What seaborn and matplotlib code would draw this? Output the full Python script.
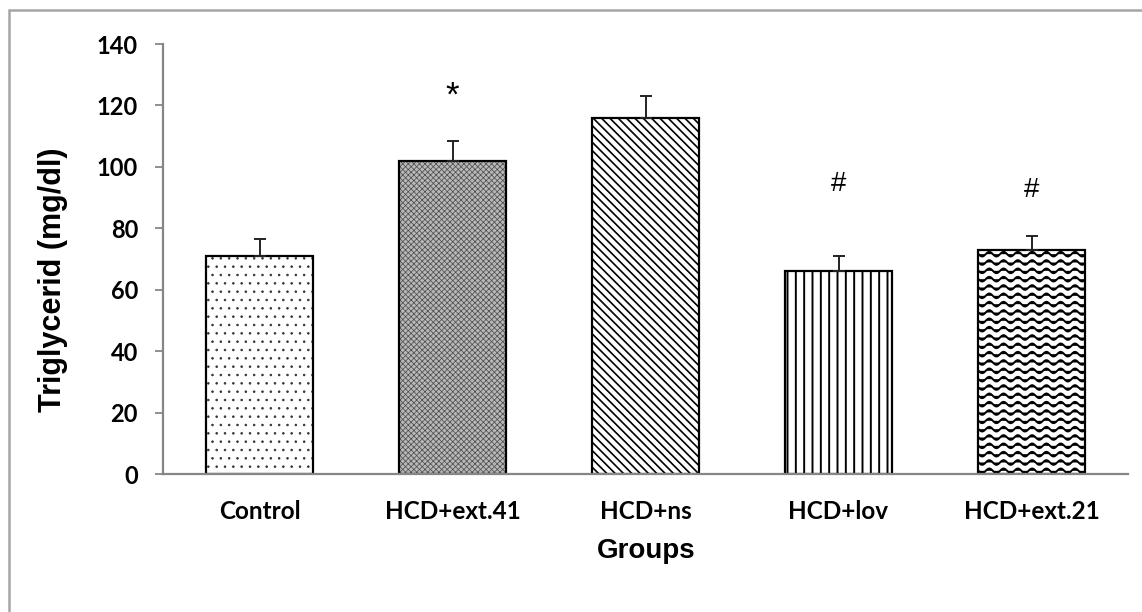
import numpy as np
import matplotlib
matplotlib.use("Agg")
import matplotlib.pyplot as plt
import matplotlib.hatch as mhatch
from matplotlib.colors import to_rgba
from matplotlib.path import Path
from matplotlib.patches import Rectangle
import seaborn as sns

# ---- data ----
groups = ["Control", "HCD+ext.41", "HCD+ns", "HCD+lov", "HCD+ext.21"]
values = [71, 102, 116, 66, 73]
errors = [5.5, 6.5, 7, 5, 4.5]
marks = ["", "*", "", "#", "#"]
mark_y = [None, 119.8, None, 92.2, 90.2]
mark_size = [0, 25, 0, 20, 20]
hatches = ["..", "xxxxxx", "\\\\\\\\", "||", "~~"]
faces = ["white", "#b8b8b8", "white", "white", "white"]
hatch_colors = ["#333333", "#505050", "black", "black", "black"]
hatch_lw = [0.6, 0.55, 1.2, 1.4, 1.4]
yticks = [0, 20, 40, 60, 80, 100, 120, 140]


# ---- custom wavy hatch ----
class WaveHatch(mhatch.HatchPatternBase):
    def __init__(self, hatch, density):
        self.num_lines = int(hatch.count('~') * density)
        self.nseg = 7 * 16
        self.num_vertices = self.num_lines * (self.nseg + 1)

    def set_vertices_and_codes(self, vertices, codes):
        if self.num_lines == 0:
            return
        steps, step = np.linspace(0.0, 1.0, self.num_lines, False, retstep=True)
        steps += step / 2.0
        x = np.linspace(0.0, 1.0, self.nseg + 1)
        wave = 0.28 * step * np.sin(2 * np.pi * 7 * x)
        n = self.nseg + 1
        for i, s in enumerate(steps):
            vertices[i * n:(i + 1) * n, 0] = x
            vertices[i * n:(i + 1) * n, 1] = s + wave
            codes[i * n] = Path.MOVETO
            codes[i * n + 1:(i + 1) * n] = Path.LINETO


mhatch._hatch_types.append(WaveHatch)
mhatch._validate_hatch_pattern = lambda h: None

sns.set_theme(style="white")
plt.rcParams["hatch.linewidth"] = 1.2
plt.rcParams["text.color"] = "black"
plt.rcParams["axes.labelcolor"] = "black"

fig = plt.figure(figsize=(11.42, 6.12), dpi=100)
ax = fig.add_axes([163 / 1142, 1 - 474 / 612, (1128 - 163) / 1142, (474 - 44) / 612])

sns.barplot(x=groups, y=values, ax=ax, width=0.55, color="white",
            edgecolor="black", linewidth=1.6, errorbar=None, saturation=1)
for p, h, fc, hl, hc in zip(ax.patches, hatches, faces, hatch_lw, hatch_colors):
    p.set_facecolor(fc)
    p.set_hatch(h)
    p.set_edgecolor("black")
    p._hatch_color = to_rgba(hc)
    if hasattr(p, "set_hatch_linewidth"):
        p.set_hatch_linewidth(hl)

ax.errorbar(x=np.arange(len(groups)), y=values,
            yerr=[np.zeros(len(values)), errors], fmt="none",
            ecolor="#222222", elinewidth=1.4, capsize=4.5, capthick=1.4, zorder=3)

for i, (m, my, ms) in enumerate(zip(marks, mark_y, mark_size)):
    if m:
        ax.text(i, my, m, ha="center", va="baseline", fontsize=ms,
                family="Liberation Sans", color="black")

ax.set_ylim(0, 140)
ax.set_xlim(-0.5, len(groups) - 0.5)
ax.set_yticks(yticks)
ax.set_yticklabels([str(t) for t in yticks], family="Lato", fontweight="bold", fontsize=17)
ax.set_xticks(range(len(groups)))
ax.set_xticklabels(groups, family="Lato", fontweight="bold", fontsize=17.5)

for s in ["top", "right"]:
    ax.spines[s].set_visible(False)
for s in ["left", "bottom"]:
    ax.spines[s].set_color("#868686")
    ax.spines[s].set_linewidth(1.6)

ax.tick_params(axis="y", which="major", left=True, length=6, width=1.3,
               color="#868686", pad=12, labelcolor="black")
ax.tick_params(axis="x", bottom=False, pad=13, labelcolor="black")

ax.set_xlabel("Groups", family="Liberation Sans", fontweight="bold", fontsize=20,
              color="black", va="center")
ax.xaxis.set_label_coords((646 - 163) / 965, (474 - 551) / 430)
ax.set_ylabel("Triglycerid (mg/dl)", family="Liberation Sans", fontweight="bold",
              fontsize=22, color="black", va="center")
ax.yaxis.set_label_coords((53 - 163) / 965, (474 - 280) / 430)

# outer frame
fig.patches.append(Rectangle((8.5 / 1142, -0.2), 1.5, 1.2 - 9.5 / 612,
                             transform=fig.transFigure, fill=False,
                             edgecolor="#a6a6a6", linewidth=1.8, zorder=0))

fig.savefig("out.png", dpi=100)
